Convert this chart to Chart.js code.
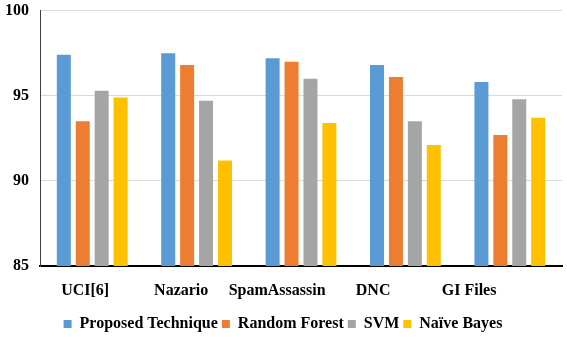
<!DOCTYPE html>
<html>
<head>
<meta charset="utf-8">
<script src="https://cdn.jsdelivr.net/npm/chart.js@4.4.0/dist/chart.umd.min.js"></script>
<style>
  html, body { margin: 0; padding: 0; background: #fff; }
  #wrap { width: 567px; height: 337px; }
</style>
</head>
<body>
<div id="wrap"><canvas id="accuracy-chart"></canvas></div>
<script>
// categories and series (accuracy %)
const datasetNames = ["UCI[6]", "Nazario", "SpamAssassin", "DNC", "GI Files"];
const proposed = [97.4, 97.5, 97.2, 96.8, 95.8];
const randomForest = [93.5, 96.8, 97.0, 96.1, 92.7];
const svm = [95.3, 94.7, 96.0, 93.5, 94.8];
const naiveBayes = [94.9, 91.2, 93.4, 92.1, 93.7];
const yTicks = [85, 90, 95, 100];

const serif = "'Liberation Serif', 'Times New Roman', serif";
const labelFont = { family: serif, size: 16, weight: "bold" };

// data object
const accuracyData = {
  labels: datasetNames,
  datasets: [
    { label: "Proposed Technique", data: proposed, backgroundColor: "#5B9BD5" },
    { label: "Random Forest", data: randomForest, backgroundColor: "#ED7D31" },
    { label: "SVM", data: svm, backgroundColor: "#A5A5A5" },
    { label: "Naïve Bayes", data: naiveBayes, backgroundColor: "#FFC000" },
  ],
};

// config object
const accuracyConfig = {
  type: "bar",
  data: accuracyData,
  options: {
    responsive: true,
    maintainAspectRatio: false,
    animation: false,
    categoryPercentage: 0.725,
    barPercentage: 0.74,
    layout: { padding: { left: 4, right: 5, top: 0, bottom: -5 } },
    plugins: {
      tooltip: { enabled: false },
      legend: {
        position: "bottom",
        labels: {
          font: labelFont,
          color: "#000",
          boxWidth: 8,
          boxHeight: 8,
          padding: 4,
        },
      },
    },
    scales: {
      x: {
        grid: { display: false },
        border: { color: "#000", width: 2 },
        ticks: { display: false },
        afterFit: (scale) => { scale.height = 2; },
      },
      // category names sit a little left of their bar groups in the original
      x2: {
        type: "linear",
        position: "bottom",
        offset: false,
        bounds: "data",
        min: -0.471,
        max: 4.968,
        afterBuildTicks: (axis) => { axis.ticks = datasetNames.map((n, i) => ({ value: i })); },
        afterFit: (scale) => { scale.height = 44; },
        grid: { display: false },
        border: { display: false },
        ticks: {
          font: labelFont,
          color: "#000",
          padding: 5,
          callback: (v) => datasetNames[v],
        },
      },
      y: {
        min: 85,
        max: 100,
        afterBuildTicks: (axis) => { axis.ticks = yTicks.map(v => ({ value: v })); },
        grid: { color: "#d9d9d9", drawTicks: true, tickLength: 10, tickColor: "transparent" },
        border: { color: "#404040", width: 1 },
        ticks: { font: labelFont, color: "#000", padding: 1 },
      },
    },
  },
};

// create and render the chart
const accuracyChart = new Chart(document.getElementById("accuracy-chart"), accuracyConfig);
</script>
</body>
</html>
